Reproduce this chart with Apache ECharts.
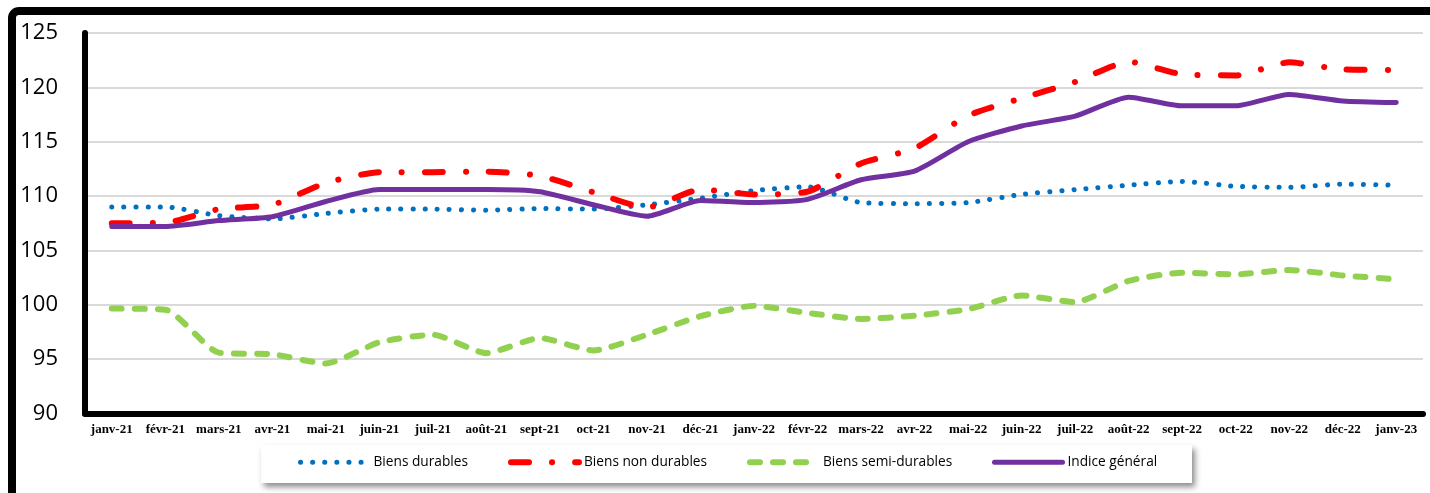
<!DOCTYPE html>
<html>
<head>
<meta charset="utf-8">
<script src="https://cdn.jsdelivr.net/npm/echarts@6/dist/echarts.min.js"></script>
<style>html,body{margin:0;padding:0;background:#fff;}#c{width:1430px;height:493px;}</style>
</head>
<body>
<div id="c"></div>
<script>
var categories = ['janv-21','févr-21','mars-21','avr-21','mai-21','juin-21','juil-21','août-21','sept-21','oct-21','nov-21','déc-21','janv-22','févr-22','mars-22','avr-22','mai-22','juin-22','juil-22','août-22','sept-22','oct-22','nov-22','déc-22','janv-23'];
var biensDurables = [109.0,109.0,108.2,107.9,108.4,108.8,108.8,108.7,108.85,108.8,109.2,109.8,110.5,110.85,109.4,109.3,109.4,110.15,110.6,111.0,111.35,110.9,110.8,111.1,111.0];
var biensNonDurables = [107.5,107.55,108.8,109.2,111.2,112.2,112.2,112.25,111.85,110.35,108.95,110.6,110.15,110.4,113.0,114.4,117.4,119.0,120.5,122.35,121.2,121.1,122.3,121.65,121.6];
var biensSemiDurables = [99.65,99.55,95.6,95.45,94.6,96.55,97.25,95.55,96.95,95.8,97.25,98.95,99.9,99.25,98.7,99.0,99.6,100.85,100.25,102.2,102.95,102.8,103.2,102.7,102.35];
var indiceGeneral = [107.2,107.2,107.75,108.1,109.5,110.6,110.6,110.6,110.4,109.2,108.15,109.6,109.4,109.7,111.5,112.3,115.0,116.45,117.35,119.1,118.3,118.3,119.35,118.75,118.6];
var yTicks = {min: 90, max: 125, interval: 5};
var names = ['Biens durables','Biens non durables','Biens semi-durables','Indice général'];
var colors = ['#0070C0','#FF0000','#92D050','#7030A0'];
var widths = [5, 6, 6, 5];
var dashes = [[0.1, 12], [18, 23, 0.1, 23], [10, 13], 'solid'];

var chart = echarts.init(document.getElementById('c'), null, {renderer: 'canvas'});
function leg(i, left) {
  return {
    data: [names[i]], left: left, top: 455, itemWidth: 68, itemHeight: 18, padding: 0,
    textStyle: {fontFamily: 'Open Sans', fontSize: 13.7, color: '#000'},
    itemStyle: {opacity: 0, borderWidth: 0},
    lineStyle: {width: widths[i], type: dashes[i], cap: 'round', color: colors[i]},
    selectedMode: false, z: 10
  };
}
var smoothV = 0.2;
chart.setOption({
  animation: false,
  backgroundColor: '#fff',
  graphic: [
    {type: 'rect', z: -1, shape: {x: 12, y: 11, width: 1500, height: 600, r: 7},
     style: {fill: 'none', stroke: '#000', lineWidth: 8}},
    {type: 'rect', z: 1, shape: {x: 261, y: 445, width: 931, height: 38},
     style: {fill: '#fff', shadowBlur: 6, shadowOffsetX: 3, shadowOffsetY: 4, shadowColor: 'rgba(0,0,0,0.45)'}}
  ],
  grid: {left: 85, right: 7, top: 33, bottom: 79.5, containLabel: false},
  legend: [leg(0, 298), leg(1, 508), leg(2, 747), leg(3, 992)],
  xAxis: {
    type: 'category', data: categories, boundaryGap: true,
    axisLine: {lineStyle: {color: '#000', width: 6}},
    axisTick: {show: false},
    axisLabel: {interval: 0, margin: 10, fontFamily: 'Liberation Serif', fontWeight: 'bold', fontSize: 13, color: '#000'}
  },
  yAxis: {
    type: 'value', min: yTicks.min, max: yTicks.max, interval: yTicks.interval,
    axisLine: {show: true, lineStyle: {color: '#000', width: 6}},
    axisTick: {show: false},
    axisLabel: {margin: 27, fontFamily: 'Open Sans', fontSize: 22, color: '#000'},
    splitLine: {lineStyle: {color: '#D9D9D9', width: 2}}
  },
  series: [0, 1, 2, 3].map(function (i) {
    var data = [biensDurables, biensNonDurables, biensSemiDurables, indiceGeneral][i];
    return {
      name: names[i], type: 'line', data: data, symbol: 'none', smooth: smoothV,
      color: colors[i],
      lineStyle: {color: colors[i], width: widths[i], type: dashes[i], cap: 'round'}
    };
  })
});
</script>
</body>
</html>
